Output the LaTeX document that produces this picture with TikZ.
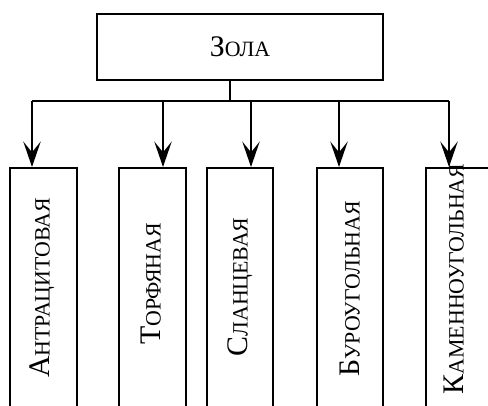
\documentclass[tikz,border=0pt]{standalone}
\usepackage{fontspec}
\setmainfont{Liberation Serif}
\usetikzlibrary{arrows.meta, positioning}
\newcommand{\capword}[2]{{\fontsize{22.4}{24}\selectfont #1}{\fontsize{16.4}{20}\selectfont #2}}
\tikzset{
    x=0.75pt, y=0.75pt,
    rootbox/.style={draw, line width=1.4pt, minimum width=214.5pt, minimum height=49.5pt, inner sep=0pt},
    kindbox/.style={draw, line width=1.3pt, anchor=north, minimum width=50pt, minimum height=195pt, inner sep=0pt},
    kindtext/.style={rotate=90, inner sep=0pt},
    feed/.style={line width=2.2pt, -{Stealth[length=19pt, width=13pt, inset=8pt]}},
}
\begin{document}
\begin{tikzpicture}
    \useasboundingbox (0,0) rectangle (488,406);
    \clip (0,0) rectangle (488,406);

        \node[rootbox] (zola) at (240,359) {\capword{З}{ОЛА}};
        \coordinate (hub) at (230,305);

        \node[kindbox] (b1) at (43.5,239) {};
        \node[kindbox] (b2) at (152.5,239) {};
        \node[kindbox] (b3) at (240,239) {};
        \node[kindbox] (b4) at (350,239) {};
        \node[kindbox] (b5) at (459.5,239) {};

        \node[kindtext] (t1) at (42,118) {\capword{А}{НТРАЦИТОВАЯ}};
        \node[kindtext] (t2) at (151,122) {\capword{Т}{ОРФЯНАЯ}};
        \node[kindtext] (t3) at (240,119) {\capword{С}{ЛАНЦЕВАЯ}};
        \node[kindtext] (t4) at (350,117) {\capword{Б}{УРОУГОЛЬНАЯ}};
        \node[kindtext] (t5) at (454,127) {\capword{К}{АМЕННОУГОЛЬНАЯ}};

        \coordinate (s1) at (32,305);
        \coordinate (s2) at (163,305);
        \coordinate (s3) at (251,305);
        \coordinate (s4) at (339,305);
        \coordinate (s5) at (449,305);

    \draw[line width=1.4pt] (zola.south -| hub) -- (hub);
    \draw[line width=1.4pt] (s1) -- (s5);
    \foreach \i in {1,...,5}
        \draw[feed] (s\i) -- (s\i |- b\i.north);
\end{tikzpicture}
\end{document}
